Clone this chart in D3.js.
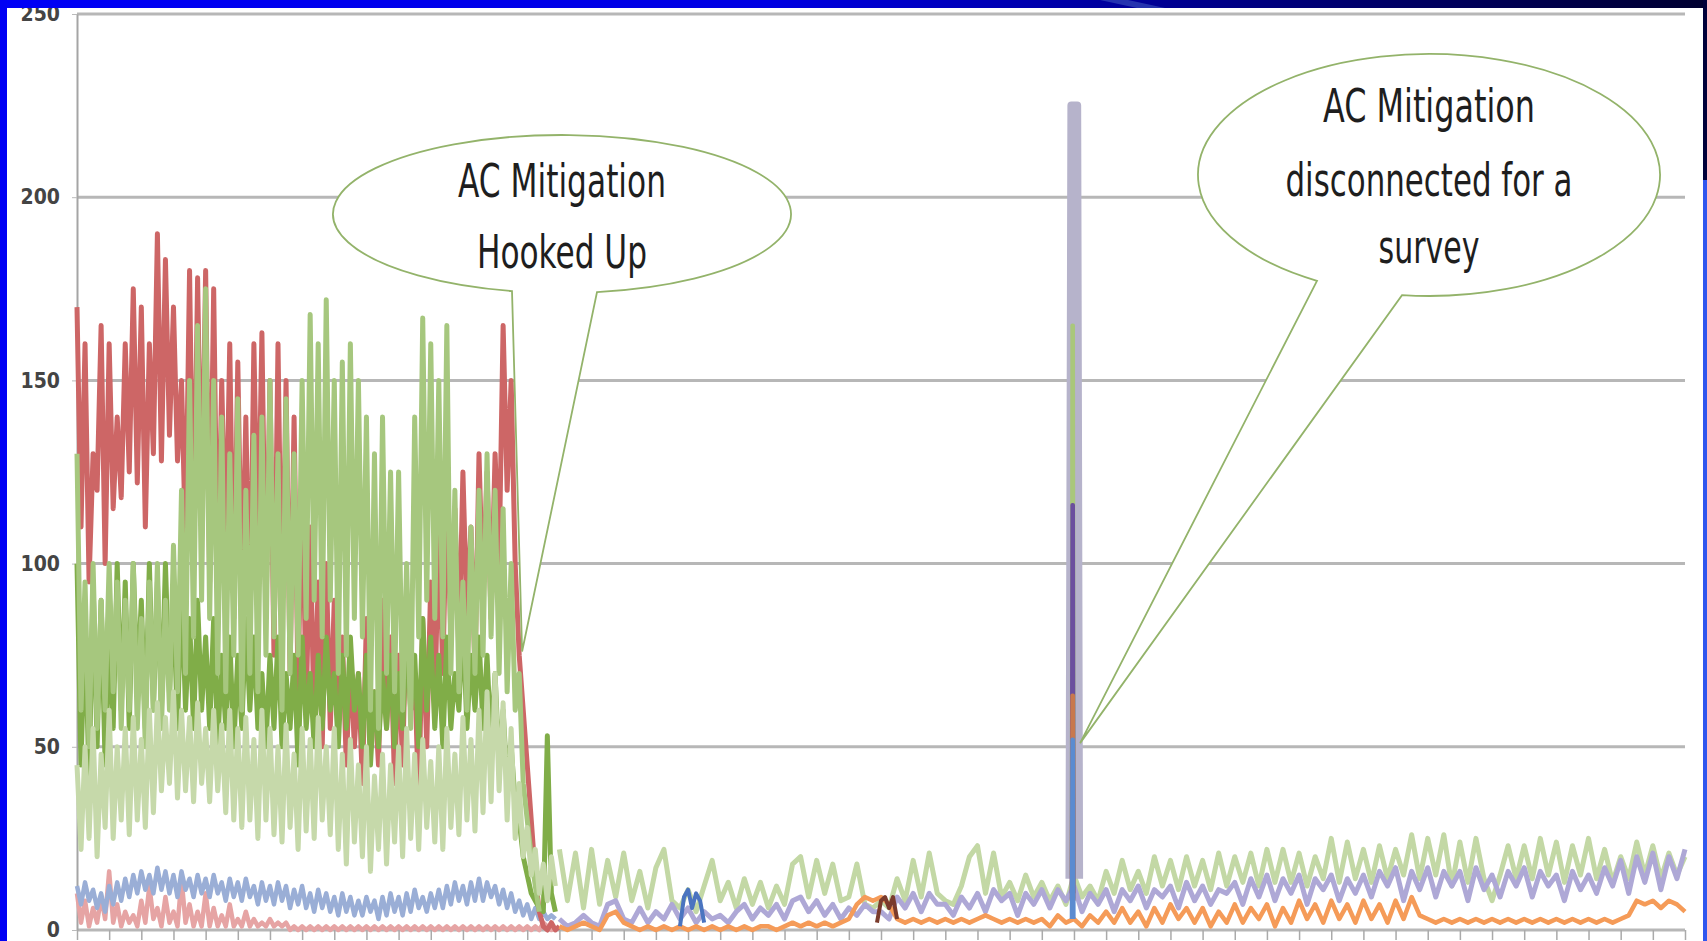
<!DOCTYPE html>
<html>
<head>
<meta charset="utf-8">
<script src="https://cdnjs.cloudflare.com/ajax/libs/d3/7.8.5/d3.min.js"></script>
<style>
html, body { margin:0; padding:0; background:#fff; overflow:hidden; }
</style>
</head>
<body>
<div id="chart"></div>
<script>
// y ticks and number of day ticks on the x axis
var yTicks = [0, 50, 100, 150, 200, 250];
var dayCount = 50;

// before mitigation: one reading every 1/8 day from day 0
var earlyStart = 0, earlyStep = 0.125;
var pinkVals = [10,2,8,1,6,2,9,3,16,2, 7,1,5,2,4,1,8,2,12,3, 6,1,9,2,5,1,14,2,7,1, 5,1,10,1,6,1,4,1,7,1,
	3,1,5,1,3,1,2,1,3,1, 2,1,2,0,1,0,1,0,1,0, 1,0,1,0,1,0,1,0,1,0, 1,0,1,0,1,0,1,0,1,0,
	1,0,1,0,1,0,1,0,1,0, 1,0,1,0,1,0,1,0,1,0, 1,0,1,0,1,0,1,0,1,0, 1,0,1,0,1,0,2,1,0,1];
var blueGrayVals = [12,7,13,8,11,6,10,5,12,7, 13,8,14,9,15,10,16,11,15,10, 17,11,16,10,15,9,16,11,14,9,
	15,10,14,9,15,10,13,8,14,9, 13,8,14,9,12,7,13,8,12,7, 13,8,12,6,11,7,12,6,10,5,
	11,6,10,5,9,4,10,5,9,4, 8,4,9,5,8,3,9,4,10,5, 9,4,10,5,11,6,9,5,10,6,
	11,6,12,7,13,8,12,7,13,8, 14,8,13,9,12,7,11,6,10,5, 8,4,7,3,6,3,5,3,4,3];
var redVals = [170,110,160,95,130,120,165,100,160,115, 140,118,160,125,175,122,170,110,160,130,
	190,128,183,135,170,128,150,105,180,100, 178,110,180,95,175,90,150,100,160,85,
	155,90,140,80,160,100,163,85,150,75, 160,80,150,70,140,65,130,60,110,55,
	95,50,100,55,90,60,80,45,75,50, 70,40,85,50,65,45,90,55,80,40,
	75,45,90,60,70,35,85,50,95,60, 110,70,120,80,115,75,125,85,110,70,
	130,90,125,85,130,100,165,120,150,100, 75,60,45,30,15,5,1,0,2,0,1];
var oliveVals = [100,45,85,40,95,50,90,45,80,55, 100,60,95,55,100,65,90,55,100,60, 95,60,100,65,90,55,95,60,85,55,
	90,60,80,55,85,50,75,55,80,50, 75,55,85,60,80,55,70,50,75,55, 80,50,70,55,75,45,80,55,70,50,
	75,55,80,60,70,50,75,55,80,60, 70,50,75,45,65,50,70,55,75,50, 70,55,80,60,75,50,85,60,80,55,
	75,50,80,55,70,60,85,55,75,60, 80,55,75,50,70,45,60,40,50,35, 30,20,15,10,8,6,5,53,10,5];
var greenVals = [130,60,95,50,100,55,90,60,100,65, 95,55,90,60,100,55,85,50,95,60, 100,55,90,60,105,65,120,70,150,80,
	165,90,175,85,150,70,140,65,130,75, 145,60,120,70,135,65,140,75,150,80, 130,60,145,70,130,75,150,85,168,90,
	160,80,172,90,150,70,155,75,160,85, 150,80,140,60,130,55,140,70,125,65, 125,60,100,55,140,80,167,90,160,85,
	150,80,165,70,120,65,95,60,110,70, 120,75,130,80,120,70,115,65,100,60, 70,40,30,20,12,5];
var lightGreenEarly = [45,22,50,25,55,20,48,28,60,25, 50,30,55,26,58,30,52,28,60,32, 62,38,58,40,65,36,60,38,58,35,
	62,40,55,35,60,38,56,32,60,30, 55,28,58,30,52,25,60,30,55,26, 50,24,56,28,48,22,55,27,52,25,
	58,30,50,26,55,22,48,18,52,24, 45,20,50,16,42,22,48,18,45,24, 50,20,55,25,48,22,52,28,46,24,
	50,22,55,28,48,26,58,30,52,27, 60,32,65,35,70,38,62,30,55,25, 40,20,28,15,22,10,18,8,20,12];

// after mitigation: one reading every 1/4 day from day 15
var lateStart = 15, lateStep = 0.25;
var lightGreenLate = [22,8,21,6,22,7,19,9,21,8, 16,6,17,22,8,6,11,5,12,19, 8,13,6,14,7,13,6,12,7,18,
	20,9,19,10,18,8,9,18,7,6, 8,6,14,8,19,9,21,10,8,7, 12,20,23,10,21,9,13,8,15,9,
	13,8,12,7,15,9,12,8,16,10, 19,11,16,10,20,12,19,11,20,12, 19,11,21,12,20,13,21,12,22,13,
	22,13,21,12,20,14,25,13,24,14, 22,13,23,14,22,15,26,14,25,15, 26,12,24,13,25,14,8,15,23,14,
	23,14,25,15,24,13,23,15,25,14, 22,13,20,14,24,15,23,14,21,15,20];
var lavenderVals = [3,1,2,4,2,1,7,8,3,2, 6,2,5,3,7,3,6,2,5,3, 4,2,5,7,3,6,4,7,3,8, 9,5,8,4,7,3,6,4,7,5,
	5,3,9,6,10,5,10,7,7,4, 9,6,10,5,11,8,10,4,10,7, 11,6,11,8,12,5,10,7,11,5, 11,8,12,6,11,9,12,6,13,8,
	12,7,11,10,13,7,14,9,15,8, 14,10,15,7,14,11,15,8,14,10, 15,9,16,12,17,8,16,11,17,9,
	16,12,16,8,17,11,15,9,16,12, 17,9,16,12,15,8,16,11,15,10, 17,12,19,10,20,13,21,11,20,14,22];
var orangeVals = [1,0,1,2,1,0,4,5,2,1, 0,1,0,1,0,1,0,1,0,1, 0,1,0,1,0,1,1,0,1,2, 1,2,1,2,1,2,3,7,9,8,
	9,7,3,2,3,2,3,2,3,2, 3,2,3,4,3,2,3,2,3,2, 3,1,4,2,3,1,4,2,5,2, 6,2,5,1,6,2,7,3,6,2,
	6,1,5,2,7,2,6,3,7,1, 6,2,8,3,7,2,8,3,7,2, 8,3,7,2,8,3,9,4,3,2, 3,2,3,2,3,2,3,2,3,2,
	3,2,3,2,3,2,3,2,3,2, 3,2,3,4,8,7,8,6,8,7,5];
var darkBlueStart = 18.75, darkBlueVals = [1,9,11,6,10,8,2];
var brownStart = 24.875, brownVals = [2,8,9,6,9,3];

// the survey day, when mitigation was switched off
var surveyOuterDays = [30.86, 30.92, 31.1, 31.16];
var surveyGray = [14, 225, 225, 14];
var surveyInnerDays = [30.93, 30.95, 30.97, 30.99];
var surveyGreen = [15, 165, 165, 15];
var surveyPurple = [10, 116, 116, 10];
var surveyOrange = [8, 64, 64, 8];
var surveyBlue = [3, 52, 52, 3];

var note1Lines = ["AC Mitigation", "Hooked Up"];
var note2Lines = ["AC Mitigation", "disconnected for a", "survey"];

function stepped(vals, start, step){
	return vals.map(function(v, i){ return [start + i*step, v]; });
}
function paired(days, vals){
	return days.map(function(d, i){ return [d, vals[i]]; });
}

var series = [
	{pts: stepped(pinkVals, earlyStart, earlyStep), color: "#e6a4a4", w: 4.5},
	{pts: stepped(blueGrayVals, earlyStart, earlyStep), color: "#9aaed6", w: 4.5},
	{pts: stepped(redVals, earlyStart, earlyStep), color: "#cd6666", w: 5},
	{pts: stepped(oliveVals, earlyStart, earlyStep), color: "#80ad48", w: 5},
	{pts: stepped(greenVals, earlyStart, earlyStep), color: "#a6c77e", w: 5},
	{pts: stepped(lightGreenEarly, earlyStart, earlyStep), color: "#c6d9aa", w: 5},
	{pts: stepped(lightGreenLate, lateStart, lateStep), color: "#c3d8a5", w: 5},
	{pts: stepped(lavenderVals, lateStart, lateStep), color: "#aea8d6", w: 5},
	{pts: stepped(orangeVals, lateStart, lateStep), color: "#f59b58", w: 4.5},
	{pts: stepped(darkBlueVals, darkBlueStart, earlyStep), color: "#4a74c0", w: 4},
	{pts: stepped(brownVals, brownStart, earlyStep), color: "#7a3b2c", w: 4},
	{pts: paired(surveyOuterDays, surveyGray), color: "#b6b3cb", w: 8},
	{pts: paired(surveyInnerDays, surveyGreen), color: "#a9c77b", w: 4},
	{pts: paired(surveyInnerDays, surveyPurple), color: "#6b4f9e", w: 4},
	{pts: paired(surveyInnerDays, surveyOrange), color: "#c8784e", w: 4},
	{pts: paired(surveyInnerDays, surveyBlue), color: "#5b8bd0", w: 4}
];

var W = 1707, H = 941;
var svg = d3.select("#chart").append("svg")
	.attr("width", W)
	.attr("height", H)
	.style("display", "block");

var x = d3.scaleLinear().domain([0, dayCount]).range([77, 1685]);
var y = d3.scaleLinear().domain([0, 250]).range([930, 14]);

// gridlines
svg.append("g").selectAll("line")
	.data(yTicks)
  .enter().append("line")
	.attr("x1", x(0)).attr("x2", x(dayCount))
	.attr("y1", function(d){ return y(d); })
	.attr("y2", function(d){ return y(d); })
	.attr("stroke", "#b7b7b7")
	.attr("stroke-width", 3);

// x ticks only, no labels
var xAxis = svg.append("g")
	.attr("transform", "translate(0," + y(0) + ")")
	.call(d3.axisBottom(x).ticks(dayCount).tickSize(10).tickSizeOuter(0).tickFormat(""));
xAxis.select(".domain").remove();
xAxis.selectAll("line").attr("stroke", "#aaa").attr("stroke-width", 1.5);

var yAxis = svg.append("g")
	.attr("transform", "translate(" + x(0) + ",0)")
	.call(d3.axisLeft(y).tickValues(yTicks).tickSize(5).tickSizeOuter(0).tickPadding(12));
yAxis.select(".domain").attr("stroke", "#a5a5a5").attr("stroke-width", 2);
yAxis.selectAll("line").attr("stroke", "#bbb");
yAxis.selectAll("text")
	.attr("fill", "#444")
	.attr("font-size", 21)
	.attr("font-weight", "bold")
	.attr("font-family", "'Liberation Sans Narrow', 'DejaVu Sans Condensed', sans-serif");

var line = d3.line()
	.x(function(d){ return x(d[0]); })
	.y(function(d){ return y(d[1]); });

svg.append("g").selectAll("path")
	.data(series)
  .enter().append("path")
	.attr("d", function(s){ return line(s.pts); })
	.attr("fill", "none")
	.attr("stroke", function(s){ return s.color; })
	.attr("stroke-width", function(s){ return s.w; })
	.attr("stroke-linejoin", "round");

// speech bubble: ellipse with a wedge pointing at (tipDay, tipVal)
function bubble(cx, cy, rx, ry, bx1, bx2, tipDay, tipVal, lines, baselines, widths){
	function yOn(bx){ return cy + ry*Math.sqrt(1 - Math.pow((bx - cx)/rx, 2)); }
	var p = "M" + bx1 + "," + yOn(bx1) +
		" A" + rx + "," + ry + " 0 1 1 " + bx2 + "," + yOn(bx2) +
		" L" + x(tipDay) + "," + y(tipVal) + " Z";
	var g = svg.append("g");
	g.append("path")
		.attr("d", p)
		.attr("fill", "#fff")
		.attr("stroke", "#93b36a")
		.attr("stroke-width", 1.8)
		.attr("stroke-linejoin", "miter");
	g.selectAll("text")
		.data(lines)
	  .enter().append("text")
		.attr("x", cx)
		.attr("y", function(d, i){ return baselines[i]; })
		.attr("text-anchor", "middle")
		.attr("font-size", 46)
		.attr("font-family", "'Liberation Sans Narrow', 'DejaVu Sans Condensed', sans-serif")
		.attr("fill", "#1e1e1e")
		.attr("textLength", function(d, i){ return widths[i]; })
		.attr("lengthAdjust", "spacingAndGlyphs")
		.text(function(d){ return d; });
}

bubble(562, 214, 229, 79, 512, 597, 13.84, 76, note1Lines, [197, 268], [208, 170]);
bubble(1429, 175, 231, 121, 1317, 1402, 31.19, 51, note2Lines, [122, 196, 263], [212, 287, 101]);

// slide frame
var defs = svg.append("defs");
var grad = defs.append("linearGradient").attr("id", "band");
[["0%", "#0000f6"], ["45%", "#0000e2"], ["62%", "#0000a8"], ["80%", "#00006a"], ["100%", "#000030"]]
	.forEach(function(s){ grad.append("stop").attr("offset", s[0]).attr("stop-color", s[1]); });
svg.append("rect").attr("x", 0).attr("y", 0).attr("width", W).attr("height", 8).attr("fill", "url(#band)");
svg.append("polygon").attr("points", "1100,0 1128,0 1165,8 1137,8").attr("fill", "#3448b8").attr("opacity", 0.7);
svg.append("rect").attr("x", 0).attr("y", 0).attr("width", 7).attr("height", H).attr("fill", "#0000f4");
svg.append("rect").attr("x", 1703).attr("y", 0).attr("width", 4).attr("height", 180).attr("fill", "#00003a");
svg.append("rect").attr("x", 1703).attr("y", 180).attr("width", 4).attr("height", H - 180).attr("fill", "#3056ef");
</script>
</body>
</html>
